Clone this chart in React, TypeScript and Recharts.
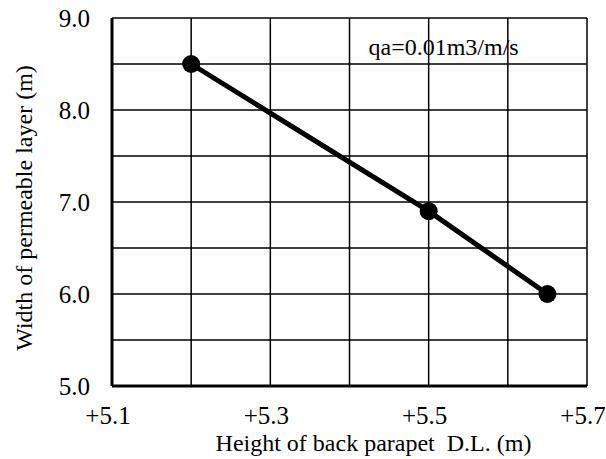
import React from "react"
import {
  LineChart, Line, XAxis, YAxis, CartesianGrid, ReferenceDot, Label,
} from "recharts"

// parapet height (m D.L.) vs permeable layer width (m)
const heights = [5.2, 5.5, 5.65]
const widths = [8.5, 6.9, 6.0]

const xTicks = [5.1, 5.2, 5.3, 5.4, 5.5, 5.6, 5.7]
const yTicks = [5.0, 5.5, 6.0, 6.5, 7.0, 7.5, 8.0, 8.5, 9.0]

const note = "qa=0.01m3/m/s"
const notePos = { x: 5.424, y: 8.68 }

const FONT = "'Liberation Serif', 'Times New Roman', serif"
const TICK = 25
const TITLE = 24

const data = heights.map((h, i) => ({ h, w: widths[i] }))

const fmtX = (v: number) => {
  const k = Math.round(v * 10)
  return k % 2 === 1 ? `+${v.toFixed(1)}` : ""
}
const fmtY = (v: number) => (Math.abs(v - Math.round(v)) < 1e-6 ? v.toFixed(1) : "")

export default function App() {
  return (
    <div style={{ position: "absolute", left: 0, top: 0, background: "#fff", fontFamily: FONT }}>
      <LineChart width={606} height={459} data={data} margin={{ top: 18, right: 19, bottom: 0, left: 0 }} style={{ fontFamily: FONT }}>
        <CartesianGrid stroke="#000" strokeWidth={1.5} />
        <XAxis
          dataKey="h"
          type="number"
          domain={[5.1, 5.7]}
          ticks={xTicks}
          interval={0}
          tickFormatter={fmtX}
          tickLine={false}
          tickSize={0}
          tickMargin={20}
          height={73}
          axisLine={{ stroke: "#000", strokeWidth: 3 }}
          tick={{ fill: "#000", fontFamily: FONT, fontSize: TICK, dx: -4 }}
        >
          <Label
            content={({ viewBox }: any) => (
              <text
                x={viewBox.x + viewBox.width / 2 + 24}
                y={viewBox.y + viewBox.height - 8}
                textAnchor="middle"
                fontFamily={FONT}
                fontSize={TITLE}
                fill="#000"
                style={{ whiteSpace: "pre" }}
              >
                Height of back parapet  D.L. (m)
              </text>
            )}
          />
        </XAxis>
        <YAxis
          dataKey="w"
          type="number"
          domain={[5, 9]}
          ticks={yTicks}
          interval={0}
          tickFormatter={fmtY}
          tickLine={false}
          tickSize={0}
          tickMargin={22}
          width={112}
          axisLine={{ stroke: "#000", strokeWidth: 3 }}
          tick={{ fill: "#000", fontFamily: FONT, fontSize: TICK }}
        >
          <Label
            content={({ viewBox }: any) => {
              const cx = 24
              const cy = viewBox.y + viewBox.height / 2 + 6
              return (
                <text
                  x={cx}
                  y={cy}
                  transform={`rotate(-90 ${cx} ${cy})`}
                  textAnchor="middle"
                  dominantBaseline="central"
                  fontFamily={FONT}
                  fontSize={TITLE}
                  fill="#000"
                >
                  Width of permeable layer (m)
                </text>
              )
            }}
          />
        </YAxis>
        <XAxis xAxisId="top" orientation="top" dataKey="h" type="number" domain={[5.1, 5.7]} tick={false} height={0} axisLine={{ stroke: "#000", strokeWidth: 3 }} />
        <YAxis yAxisId="right" orientation="right" dataKey="w" type="number" domain={[5, 9]} tick={false} width={0} axisLine={{ stroke: "#000", strokeWidth: 3 }} />
        <Line
          dataKey="w"
          stroke="#000"
          strokeWidth={5}
          dot={{ r: 9, fill: "#000", stroke: "#000", strokeWidth: 0 }}
          isAnimationActive={false}
        />
        <ReferenceDot
          x={notePos.x}
          y={notePos.y}
          r={0}
          label={({ viewBox }: any) => (
            <text x={viewBox.x} y={viewBox.y + 8} fontFamily={FONT} fontSize={TITLE} fill="#000">
              {note}
            </text>
          )}
        />
      </LineChart>
    </div>
  )
}
